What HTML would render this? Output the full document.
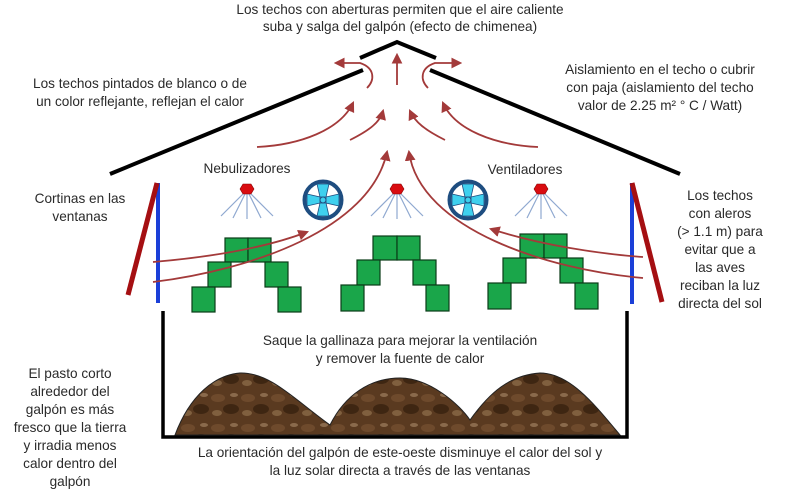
<!DOCTYPE html>
<html><head><meta charset="utf-8"><style>
body{margin:0;background:#fff}
svg text{font-family:"Liberation Sans",sans-serif;font-size:13.6px;fill:#2a2a2a}
</style></head><body>
<svg width="800" height="498" viewBox="0 0 800 498" xmlns="http://www.w3.org/2000/svg">
<defs>
<marker id="a" viewBox="0 0 10 10" refX="8" refY="5" markerWidth="6" markerHeight="6" orient="auto"><path d="M0,0L10,5L0,10z" fill="#a33a3a"/></marker>
<pattern id="dirt" width="30" height="30" patternUnits="userSpaceOnUse">
<rect width="30" height="30" fill="#5a3a20"/>
<ellipse cx="8" cy="8" rx="7" ry="4" fill="#6e4a2c"/><ellipse cx="21" cy="19" rx="8" ry="5" fill="#3e2612"/><ellipse cx="24" cy="5" rx="4" ry="2" fill="#8a6a4c"/><ellipse cx="7" cy="23" rx="5" ry="3" fill="#80603f"/>
</pattern>
<g id="neb"><g stroke="#8fa8d0" stroke-width="1.2"><line x1="0" y1="0" x2="-26" y2="26"/><line x1="0" y1="0" x2="-14" y2="28"/><line x1="0" y1="0" x2="0" y2="29"/><line x1="0" y1="0" x2="14" y2="28"/><line x1="0" y1="0" x2="26" y2="26"/></g><polygon points="-4,-6 4,-6 7,-1 4,4 -4,4 -7,-1" fill="#d90c10" stroke="#800" stroke-width=".6"/></g>
<g id="fan">
<circle r="18.5" fill="#fff" stroke="#1e4d80" stroke-width="4"/>
<path d="M-3,-3L-6,-16L6,-16L3,-3ZM3,-3L16,-6L16,6L3,3ZM3,3L6,16L-6,16L-3,3ZM-3,3L-16,6L-16,-6L-3,-3Z" fill="#3fd0ee" stroke="#1e4d80" stroke-width=".8"/>
<circle r="3" fill="#3fd0ee" stroke="#1e4d80"/>
</g>
</defs>
<g text-anchor="middle">
<text x="400" y="14">Los techos con aberturas permiten que el aire caliente</text>
<text x="400" y="31">suba y salga del galpón (efecto de chimenea)</text>
<text x="140" y="88">Los techos pintados de blanco o de</text>
<text x="140" y="106">un color reflejante, reflejan el calor</text>
<text x="660" y="74">Aislamiento en el techo o cubrir</text>
<text x="660" y="92">con paja (aislamiento del techo</text>
<text x="660" y="110">valor de  2.25 m² ° C / Watt)</text>
<text x="80" y="203">Cortinas en las</text>
<text x="80" y="221">ventanas</text>
<text x="720" y="200">Los techos</text>
<text x="720" y="218">con aleros</text>
<text x="720" y="236">(&gt; 1.1 m) para</text>
<text x="720" y="254">evitar que a</text>
<text x="720" y="272">las aves</text>
<text x="720" y="290">reciban la luz</text>
<text x="720" y="308">directa del sol</text>
<text x="247" y="173">Nebulizadores</text>
<text x="525" y="174">Ventiladores</text>
<text x="400" y="345">Saque la gallinaza para mejorar la ventilación</text>
<text x="400" y="363">y remover la fuente de calor</text>
<text x="70" y="378">El pasto corto</text>
<text x="70" y="396">alrededor del</text>
<text x="70" y="414">galpón es más</text>
<text x="70" y="432">fresco que la tierra</text>
<text x="70" y="450">y irradia menos</text>
<text x="70" y="468">calor dentro del</text>
<text x="70" y="486">galpón</text>
<text x="400" y="457">La orientación del galpón de este-oeste disminuye el calor del sol y</text>
<text x="400" y="475">la luz solar directa a través de las ventanas</text>
</g>
<g stroke="#000" stroke-width="4" fill="none">
<path d="M360,58L397,42L436,58"/>
<path d="M363,70L110,174"/><path d="M430,70L680,174"/>
<path d="M163,311V437H627V311" stroke-width="3.5"/>
</g>
<path d="M175,435C190,395 215,375 240,373C270,372 295,400 330,425C345,395 370,378 400,378C430,378 460,405 470,420C490,392 510,375 540,373C570,373 595,405 620,435Z" fill="url(#dirt)" stroke="#222" stroke-width="1"/>
<line x1="158" y1="183" x2="158" y2="303" stroke="#1b3fd8" stroke-width="4"/>
<line x1="157" y1="183" x2="128" y2="295" stroke="#a50f12" stroke-width="5"/>
<line x1="632" y1="183" x2="632" y2="304" stroke="#1b3fd8" stroke-width="4"/>
<line x1="632" y1="183" x2="662" y2="302" stroke="#a50f12" stroke-width="5"/>
<g fill="#1aa64a" stroke="#0a3c18" stroke-width="1.2">
<rect x="225" y="238" width="23" height="24"/><rect x="248" y="238" width="23" height="24"/>
<rect x="208" y="262" width="23" height="25"/><rect x="265" y="262" width="23" height="25"/>
<rect x="192" y="287" width="23" height="25"/><rect x="278" y="287" width="23" height="25"/>
<rect x="373" y="236" width="24" height="24"/><rect x="397" y="236" width="23" height="24"/>
<rect x="357" y="260" width="23" height="25"/><rect x="413" y="260" width="23" height="25"/>
<rect x="341" y="285" width="23" height="26"/><rect x="426" y="285" width="23" height="26"/>
<rect x="520" y="234" width="24" height="24"/><rect x="544" y="234" width="23" height="24"/>
<rect x="503" y="258" width="23" height="25"/><rect x="560" y="258" width="23" height="25"/>
<rect x="488" y="283" width="23" height="26"/><rect x="575" y="283" width="23" height="26"/>
</g>
<g stroke="#a33a3a" stroke-width="1.8" fill="none" marker-end="url(#a)">
<path d="M397,85V55"/>
<path d="M367,88C375,80 375,68 360,63L336,63"/>
<path d="M428,88C420,80 420,68 435,63L460,63"/>
<path d="M257,147C300,145 340,130 353,103"/>
<path d="M350,140C370,130 380,122 383,111"/>
<path d="M538,147C495,145 455,130 443,103"/>
<path d="M445,140C425,130 415,122 410,111"/>
<path d="M153,262C200,258 260,250 307,232"/>
<path d="M153,282C250,270 370,230 387,152"/>
<path d="M643,257C600,254 540,245 491,229"/>
<path d="M643,278C550,270 420,230 409,152"/>
</g>
<use href="#neb" x="247" y="190"/><use href="#neb" x="397" y="190"/><use href="#neb" x="541" y="190"/>
<use href="#fan" x="323" y="200"/><use href="#fan" x="468" y="200"/>
</svg>
</body></html>
